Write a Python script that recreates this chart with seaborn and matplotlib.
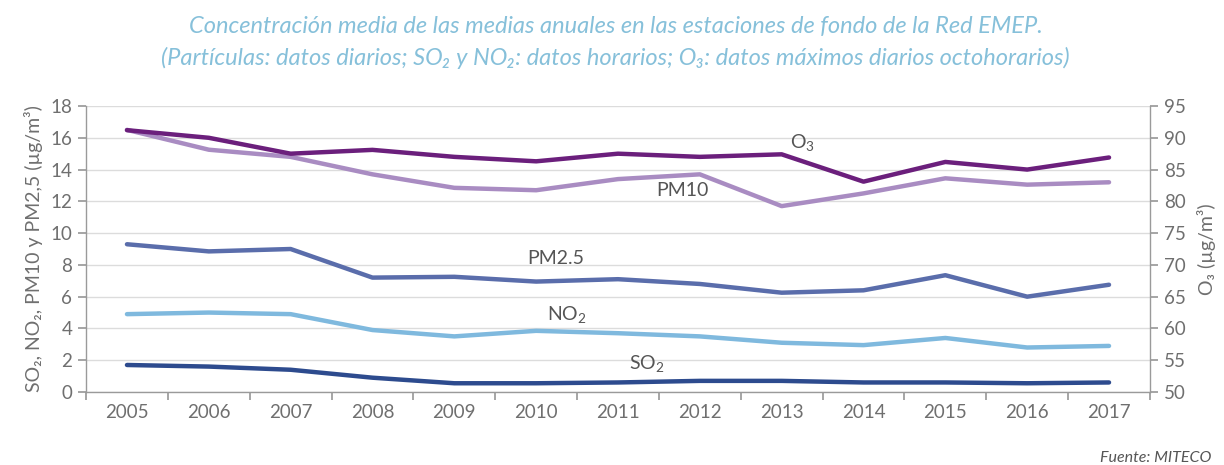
import matplotlib
matplotlib.use("Agg")
import matplotlib.pyplot as plt
import seaborn as sns
import pandas as pd
import numpy as np

years = ["2005", "2006", "2007", "2008", "2009", "2010", "2011", "2012", "2013", "2014", "2015", "2016", "2017"]
o3 = [91.2, 90.0, 87.5, 88.1, 87.0, 86.3, 87.5, 87.0, 87.4, 83.1, 86.2, 85.0, 86.9]
pm10 = [16.5, 15.25, 14.8, 13.7, 12.85, 12.7, 13.4, 13.7, 11.7, 12.5, 13.45, 13.05, 13.2]
pm25 = [9.3, 8.85, 9.0, 7.2, 7.25, 6.95, 7.1, 6.8, 6.25, 6.4, 7.35, 6.0, 6.75]
no2 = [4.9, 5.0, 4.9, 3.9, 3.5, 3.85, 3.7, 3.5, 3.1, 2.95, 3.4, 2.8, 2.9]
so2 = [1.7, 1.6, 1.4, 0.9, 0.55, 0.55, 0.6, 0.7, 0.7, 0.6, 0.6, 0.55, 0.6]

sns.set_theme(style="white")
plt.rcParams['font.family'] = ['Lato', 'DejaVu Sans']
plt.rcParams['mathtext.fontset'] = 'custom'
plt.rcParams['mathtext.rm'] = 'Lato'
plt.rcParams['mathtext.it'] = 'Lato:italic'

grey = "#6f6f6f"
axis_grey = "#9a9a9a"
c_o3 = "#6b1f7c"
c_pm10 = "#a98cc2"
c_pm25 = "#5a6dab"
c_no2 = "#7fb9de"
c_so2 = "#2d4b8e"

idx = np.arange(len(years))
df = pd.DataFrame({"x": idx, "PM10": pm10, "PM2.5": pm25, "NO2": no2, "SO2": so2, "O3": o3})

fig = plt.figure(figsize=(12.24, 4.65), dpi=100)
ax = fig.add_axes([0.0703, 0.157, 0.8692, 0.615])
ax2 = ax.twinx()

lw = 3.2
sns.lineplot(data=df, x="x", y="SO2", ax=ax, color=c_so2, linewidth=lw)
sns.lineplot(data=df, x="x", y="NO2", ax=ax, color=c_no2, linewidth=lw)
sns.lineplot(data=df, x="x", y="PM2.5", ax=ax, color=c_pm25, linewidth=lw)
sns.lineplot(data=df, x="x", y="PM10", ax=ax, color=c_pm10, linewidth=lw)
sns.lineplot(data=df, x="x", y="O3", ax=ax2, color=c_o3, linewidth=lw)

ax.set_ylim(0, 18)
ax.set_yticks(np.arange(0, 19, 2))
ax2.set_ylim(50, 95)
ax2.set_yticks(np.arange(50, 96, 5))
ax.set_xlim(-0.5, len(years) - 0.5)
ax.set_xticks(np.arange(-0.5, len(years), 1.0))
ax.set_xticklabels([])
ax.set_xticks(idx, minor=True)
ax.set_xticklabels(years, minor=True)

ax.yaxis.grid(True, color="#dcdcdc", linewidth=1.0)
ax.set_axisbelow(True)
ax2.grid(False)

for a in (ax, ax2):
    for s in a.spines.values():
        s.set_color(axis_grey)
        s.set_linewidth(1.0)
    a.spines["top"].set_visible(False)
ax.spines["right"].set_visible(False)
ax2.spines["left"].set_visible(False)
ax2.spines["bottom"].set_visible(False)

ax.tick_params(axis="y", which="major", left=True, length=6, color=axis_grey, labelsize=13.5, labelcolor=grey, pad=4)
ax.tick_params(axis="x", which="major", bottom=True, length=6, color=axis_grey)
ax.tick_params(axis="x", which="minor", bottom=True, length=0, labelsize=13.5, labelcolor=grey, pad=9)
ax2.tick_params(axis="y", right=True, length=6, color=axis_grey, labelsize=13.5, labelcolor=grey, pad=4)

ax.set_xlabel("")
ax.set_ylabel("SO₂, NO₂, PM10 y PM2,5 (µg/m³)", fontsize=14, color=grey, labelpad=5)
ax2.set_ylabel("O₃ (µg/m³)", fontsize=14, color=grey, labelpad=8)

lab_kw = dict(fontsize=14, color="#555555", ha="center", va="center")
ax.text(8.25, 15.7, r"O$_3$", **lab_kw)
ax.text(6.79, 12.7, "PM10", **lab_kw)
ax.text(5.24, 8.4, "PM2.5", **lab_kw)
ax.text(5.38, 4.9, r"NO$_2$", **lab_kw)
ax.text(6.35, 1.8, r"SO$_2$", **lab_kw)

title_color = "#86c0da"
fig.text(0.503, 0.942, "Concentración media de las medias anuales en las estaciones de fondo de la Red EMEP.",
         ha="center", va="center", fontsize=17, style="italic", color=title_color)
fig.text(0.503, 0.875, "(Partículas: datos diarios; SO₂ y NO₂: datos horarios; O₃: datos máximos diarios octohorarios)",
         ha="center", va="center", fontsize=17, style="italic", color=title_color)
fig.text(0.99, 0.0, "Fuente: MITECO", ha="right", va="bottom", fontsize=11.5, style="italic", color="#555555")

fig.savefig("out.png", dpi=100)
